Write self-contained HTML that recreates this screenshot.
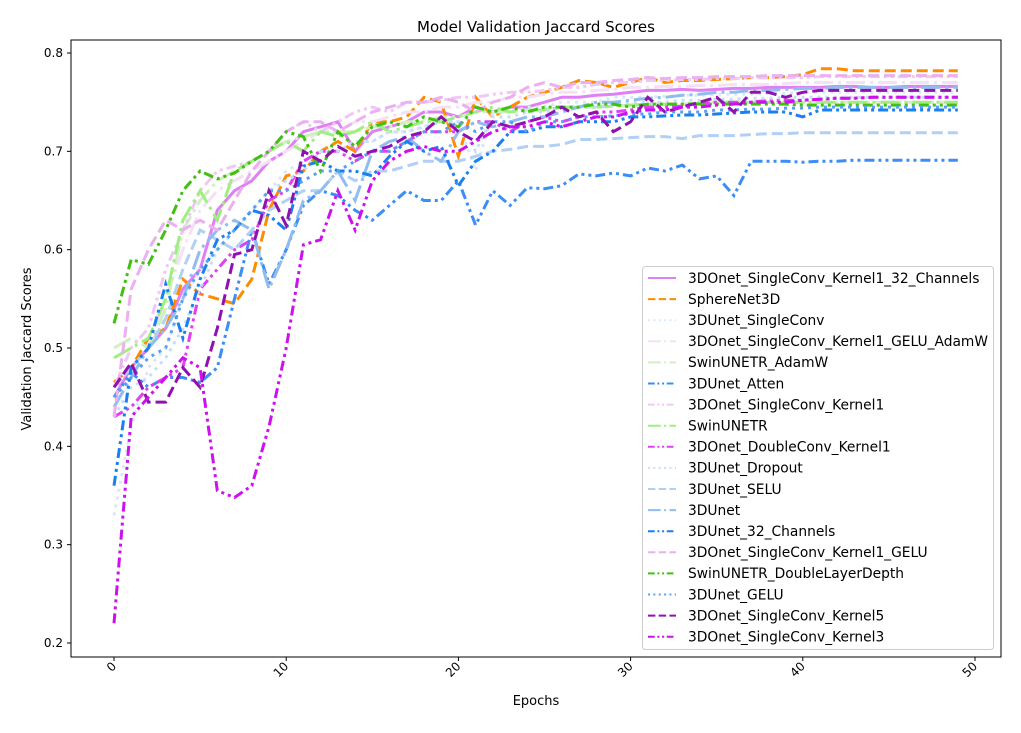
<!DOCTYPE html>
<html><head><meta charset="utf-8"><style>
body{margin:0;background:#fff;font-family:"Liberation Sans",sans-serif}
svg text{font-family:"DejaVu Sans","Liberation Sans",sans-serif}
</style></head><body>
<svg id="c" width="1021" height="728" xmlns="http://www.w3.org/2000/svg">
<rect width="1021" height="728" fill="#fff"/>
<text x="536" y="32" font-size="15" text-anchor="middle">Model Validation Jaccard Scores</text>
<g id="plot"></g>
<rect x="71" y="40" width="930" height="617" fill="none" stroke="#000" stroke-width="1"/>
<g id="axes"></g>
<text x="536" y="705" font-size="13" text-anchor="middle">Epochs</text>
<text x="31" y="349" font-size="13" text-anchor="middle" transform="rotate(-90 31 349)">Validation Jaccard Scores</text>
<g id="legend"></g>
</svg>
<script>
const names=["3DOnet_SingleConv_Kernel1_32_Channels","SphereNet3D","3DUnet_SingleConv","3DOnet_SingleConv_Kernel1_GELU_AdamW","SwinUNETR_AdamW","3DUnet_Atten","3DOnet_SingleConv_Kernel1","SwinUNETR","3DOnet_DoubleConv_Kernel1","3DUnet_Dropout","3DUnet_SELU","3DUnet","3DUnet_32_Channels","3DOnet_SingleConv_Kernel1_GELU","SwinUNETR_DoubleLayerDepth","3DUnet_GELU","3DOnet_SingleConv_Kernel5","3DOnet_SingleConv_Kernel3"];
const colors=["#e080f5","#ff8c00","#d8e8fa","#f5e0f5","#d0f0c4","#3a8ef5","#f0c8f5","#a0ee80","#e040f0","#c8dcf5","#b0d0f5","#90bcf0","#1a7ff0","#eab0f0","#40c010","#5aa0f0","#9010b0","#cc10f0"];
const dashes=["","11,5","3,5","19,5,3,5","19,5,3,5","10,4,3,4,3,4","10,4,3,4,3,4","19,5,3,5","10,4,3,4,3,4","3,5","11,5","19,5,3,5","10,4,3,4,3,4","11,5","10,4,3,4,3,4","3,5","11,5","10,4,3,4,3,4"];
const xTicks=[0,10,20,30,40,50];
const yTicks=[0.2,0.3,0.4,0.5,0.6,0.7,0.8];
const s0=[0.45,0.48,0.50,0.52,0.56,0.58,0.64,0.66,0.67,0.69,0.70,0.72,0.725,0.73,0.70,0.72,0.725,0.73,0.74,0.74,0.735,0.745,0.74,0.745,0.745,0.75,0.755,0.755,0.757,0.758,0.76,0.762,0.762,0.763,0.762,0.763,0.764,0.764,0.765,0.765,0.765,0.765,0.766,0.766,0.765,0.765,0.766,0.766,0.766,0.766];
const s1=[0.465,0.48,0.51,0.52,0.57,0.555,0.55,0.545,0.57,0.64,0.675,0.68,0.70,0.71,0.70,0.73,0.73,0.735,0.755,0.75,0.695,0.755,0.735,0.745,0.755,0.76,0.765,0.772,0.77,0.765,0.77,0.775,0.77,0.772,0.772,0.773,0.774,0.775,0.775,0.776,0.778,0.784,0.784,0.782,0.782,0.782,0.782,0.782,0.782,0.782];
const s2=[0.33,0.42,0.48,0.50,0.55,0.58,0.60,0.62,0.64,0.66,0.68,0.69,0.70,0.70,0.71,0.71,0.72,0.72,0.725,0.73,0.73,0.68,0.74,0.74,0.745,0.745,0.75,0.75,0.75,0.755,0.755,0.755,0.756,0.757,0.757,0.758,0.758,0.758,0.759,0.759,0.76,0.76,0.76,0.76,0.76,0.76,0.76,0.76,0.76,0.76];
const s3=[0.50,0.51,0.50,0.55,0.60,0.64,0.66,0.67,0.68,0.69,0.70,0.71,0.72,0.72,0.73,0.73,0.735,0.74,0.74,0.745,0.745,0.75,0.75,0.755,0.755,0.758,0.76,0.76,0.762,0.763,0.765,0.765,0.766,0.766,0.767,0.767,0.768,0.768,0.768,0.769,0.77,0.77,0.77,0.77,0.77,0.77,0.77,0.77,0.77,0.77];
const s4=[0.50,0.51,0.50,0.54,0.62,0.65,0.67,0.68,0.69,0.70,0.71,0.715,0.72,0.72,0.72,0.725,0.725,0.73,0.73,0.735,0.735,0.74,0.74,0.74,0.742,0.742,0.745,0.745,0.745,0.746,0.747,0.748,0.748,0.748,0.749,0.75,0.75,0.75,0.75,0.75,0.75,0.75,0.75,0.75,0.75,0.75,0.75,0.75,0.75,0.75];
const s5=[0.45,0.475,0.46,0.47,0.47,0.465,0.48,0.55,0.62,0.565,0.60,0.645,0.66,0.655,0.64,0.63,0.645,0.66,0.65,0.65,0.67,0.625,0.66,0.645,0.663,0.662,0.665,0.677,0.675,0.678,0.675,0.683,0.68,0.686,0.672,0.675,0.655,0.69,0.69,0.69,0.689,0.69,0.69,0.691,0.691,0.691,0.691,0.691,0.691,0.691];
const s6=[0.46,0.50,0.52,0.58,0.62,0.66,0.68,0.685,0.69,0.70,0.72,0.73,0.72,0.73,0.74,0.745,0.74,0.75,0.75,0.752,0.755,0.755,0.758,0.76,0.76,0.762,0.765,0.765,0.768,0.77,0.77,0.772,0.772,0.773,0.773,0.774,0.774,0.775,0.775,0.775,0.775,0.776,0.776,0.776,0.776,0.776,0.776,0.776,0.776,0.776];
const s7=[0.49,0.50,0.51,0.55,0.63,0.66,0.63,0.68,0.69,0.70,0.71,0.70,0.72,0.715,0.72,0.73,0.72,0.725,0.73,0.73,0.735,0.74,0.745,0.74,0.742,0.742,0.745,0.745,0.745,0.746,0.747,0.748,0.748,0.748,0.749,0.75,0.75,0.75,0.75,0.75,0.75,0.75,0.75,0.75,0.75,0.75,0.75,0.75,0.75,0.75];
const s8=[0.43,0.44,0.46,0.47,0.48,0.56,0.58,0.60,0.61,0.65,0.66,0.69,0.70,0.70,0.69,0.70,0.70,0.71,0.72,0.72,0.72,0.73,0.73,0.72,0.73,0.735,0.73,0.735,0.74,0.74,0.742,0.745,0.745,0.746,0.748,0.75,0.75,0.75,0.752,0.752,0.752,0.753,0.754,0.754,0.755,0.755,0.755,0.755,0.755,0.755];
const s9=[0.43,0.46,0.47,0.49,0.52,0.56,0.60,0.62,0.64,0.66,0.67,0.68,0.70,0.70,0.71,0.71,0.72,0.72,0.725,0.73,0.73,0.70,0.735,0.735,0.74,0.74,0.745,0.745,0.745,0.748,0.75,0.75,0.75,0.752,0.752,0.753,0.753,0.754,0.754,0.755,0.755,0.755,0.755,0.755,0.755,0.755,0.755,0.755,0.755,0.755];
const s10=[0.46,0.48,0.50,0.53,0.58,0.62,0.61,0.60,0.62,0.64,0.65,0.66,0.66,0.68,0.67,0.68,0.68,0.685,0.69,0.69,0.69,0.695,0.70,0.702,0.705,0.705,0.707,0.712,0.712,0.713,0.714,0.715,0.715,0.713,0.716,0.716,0.716,0.717,0.718,0.718,0.719,0.719,0.719,0.719,0.719,0.719,0.719,0.719,0.719,0.719];
const s11=[0.44,0.47,0.50,0.52,0.55,0.60,0.62,0.63,0.62,0.56,0.60,0.65,0.66,0.68,0.65,0.70,0.71,0.715,0.70,0.69,0.72,0.73,0.725,0.73,0.735,0.735,0.74,0.745,0.75,0.75,0.752,0.754,0.755,0.757,0.758,0.76,0.76,0.762,0.762,0.763,0.764,0.764,0.765,0.765,0.765,0.765,0.765,0.765,0.765,0.765];
const s12=[0.36,0.48,0.50,0.565,0.51,0.57,0.61,0.62,0.64,0.635,0.62,0.685,0.69,0.68,0.68,0.675,0.695,0.71,0.70,0.705,0.665,0.69,0.70,0.72,0.72,0.725,0.725,0.73,0.73,0.73,0.735,0.735,0.736,0.737,0.737,0.738,0.739,0.74,0.74,0.74,0.735,0.742,0.742,0.742,0.742,0.742,0.742,0.742,0.742,0.742];
const s13=[0.43,0.56,0.60,0.63,0.62,0.63,0.62,0.65,0.68,0.70,0.72,0.73,0.73,0.72,0.73,0.74,0.745,0.75,0.75,0.755,0.75,0.74,0.75,0.755,0.765,0.77,0.765,0.77,0.77,0.772,0.773,0.775,0.774,0.775,0.775,0.776,0.776,0.776,0.777,0.777,0.777,0.777,0.777,0.777,0.777,0.777,0.777,0.777,0.777,0.777];
const s14=[0.525,0.59,0.585,0.62,0.66,0.68,0.672,0.678,0.69,0.70,0.72,0.715,0.68,0.72,0.705,0.725,0.73,0.725,0.735,0.73,0.725,0.745,0.74,0.745,0.74,0.745,0.745,0.745,0.748,0.748,0.745,0.748,0.748,0.748,0.748,0.748,0.748,0.748,0.748,0.748,0.747,0.747,0.747,0.747,0.747,0.747,0.747,0.747,0.747,0.747];
const s15=[0.45,0.47,0.49,0.50,0.55,0.58,0.60,0.62,0.64,0.66,0.66,0.67,0.68,0.68,0.69,0.70,0.70,0.71,0.72,0.72,0.73,0.72,0.73,0.73,0.72,0.73,0.73,0.735,0.735,0.736,0.738,0.738,0.74,0.74,0.74,0.742,0.742,0.743,0.743,0.744,0.744,0.745,0.745,0.745,0.745,0.745,0.745,0.745,0.745,0.745];
const s16=[0.46,0.485,0.445,0.445,0.48,0.46,0.52,0.595,0.60,0.66,0.625,0.70,0.69,0.705,0.695,0.70,0.705,0.715,0.72,0.735,0.72,0.71,0.73,0.725,0.73,0.735,0.745,0.735,0.74,0.72,0.73,0.755,0.74,0.745,0.75,0.755,0.74,0.76,0.76,0.755,0.76,0.762,0.762,0.762,0.762,0.762,0.762,0.762,0.762,0.762];
const s17=[0.22,0.43,0.45,0.47,0.49,0.48,0.355,0.348,0.36,0.42,0.50,0.605,0.61,0.66,0.62,0.67,0.69,0.70,0.705,0.70,0.70,0.71,0.72,0.725,0.725,0.73,0.725,0.73,0.735,0.735,0.74,0.742,0.742,0.745,0.745,0.747,0.748,0.75,0.75,0.75,0.752,0.753,0.754,0.754,0.755,0.755,0.755,0.755,0.755,0.755];
const series=[s0,s1,s2,s3,s4,s5,s6,s7,s8,s9,s10,s11,s12,s13,s14,s15,s16,s17];
const NS="http://www.w3.org/2000/svg";
const xS=v=>114+v*(975-114)/50;
const yS=v=>643-(v-0.2)*(643-53)/0.6;
const plot=document.getElementById('plot'),axes=document.getElementById('axes'),leg=document.getElementById('legend');
function mk(t,a){const e=document.createElementNS(NS,t);for(const k in a)e.setAttribute(k,a[k]);return e;}
series.forEach((d,i)=>{
 const p=mk('path',{d:d.map((v,j)=>(j?'L':'M')+xS(j).toFixed(1)+','+yS(v).toFixed(1)).join(''),fill:'none',stroke:colors[i],'stroke-width':3,'stroke-dasharray':dashes[i]});
 
 
 plot.appendChild(p);
});
xTicks.forEach(t=>{
 const l=mk('line',{x1:xS(t),x2:xS(t),y1:657,y2:661,stroke:'#000'});
 
 
 axes.appendChild(l);
 const tx=mk('text',{x:xS(t)+3,y:667,'font-size':12,'text-anchor':'end',transform:`rotate(-45 ${xS(t)+3} 667)`});
 tx.textContent=t;
 
 
 axes.appendChild(tx);
});
yTicks.forEach(t=>{
 const l=mk('line',{x1:67,x2:71,y1:yS(t),y2:yS(t),stroke:'#000'});
 
 
 axes.appendChild(l);
 const tx=mk('text',{x:63,y:yS(t)+4,'font-size':12,'text-anchor':'end'});
 tx.textContent=t.toFixed(1);
 
 
 axes.appendChild(tx);
});
const box=mk('rect',{x:642.5,y:266.5,width:351,height:383,rx:3,fill:'#fff','fill-opacity':0.8,stroke:'#ccc'});


leg.appendChild(box);
names.forEach((n,i)=>{
 const y=278+i*21.1;
 const g=mk('g',{});
 
 
 g.appendChild(mk('line',{x1:648,x2:676,y1:y,y2:y,stroke:colors[i],'stroke-width':2,'stroke-dasharray':dashes[i]?dashes[i].split(',').map(v=>v*0.67).join(','):''}));
 const tx=mk('text',{x:688,y:y+4.8,'font-size':13.8});
 tx.textContent=n;
 g.appendChild(tx);
 leg.appendChild(g);
});
</script>
</body></html>
